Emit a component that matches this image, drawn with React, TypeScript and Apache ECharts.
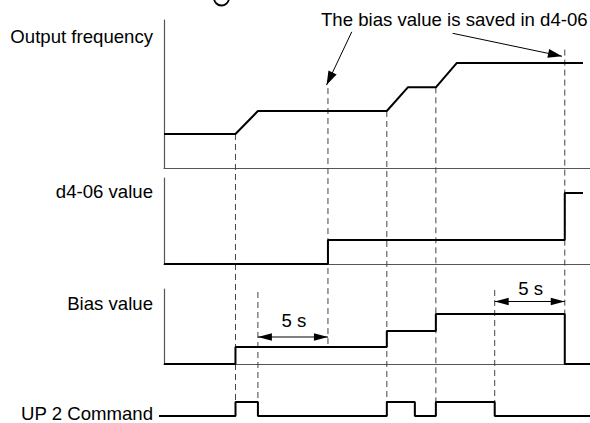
import React, { useEffect, useRef } from "react";
import * as echarts from "echarts";

// ---- data (time in seconds, panel values in % of each panel's scale) ----
const X_MAX = 30.4;

const freqTime = [0, 5.1, 6.7, 15.9, 17.4, 19.4, 20.9, 29.9];
const freqValue = [23, 23, 38.5, 38.5, 54.5, 54.5, 71, 71];

const d406Time = [0, 11.7, 28.6, 29.9];
const d406Value = [0, 28, 82.5, 82.5];

const biasTime = [0, 5.1, 15.9, 19.4, 28.6, 30.4];
const biasValue = [0, 22.7, 44, 66.7, 0, 0];

const up2Time = [-0.36, 5.1, 6.7, 15.9, 17.9, 19.4, 23.6, 30.4];
const up2Value = [0, 1, 0, 1, 0, 1, 0, 0];

const panelLabels = ["Output frequency", "d4-06 value", "Bias value", "UP 2 Command"];
const annotationText = "The bias value is saved in d4-06";
const delayLabel = "5 s";
const delayStart = [6.7, 23.6];
const delaySeconds = 5;

// guide lines: time, [grid, value] top, [grid, value] bottom
const guideTime = [5.1, 6.7, 11.7, 15.9, 19.4, 23.6, 28.6];
const guideTop = [[0, 23], [2, 96], [0, 54], [0, 38.5], [0, 54.5], [2, 98.7], [0, 80]];
const guideBottom = [[3, 1], [3, 1], [2, 22.7], [3, 1], [3, 1], [3, 1], [2, 66.7]];

// annotation arrows in output-frequency panel coordinates: tail -> tip
const annotTail = [[13.4, 92], [20.6, 91]];
const annotTip = [[11.6, 56], [28.4, 75.5]];

export default function App() {
  const ref = useRef<HTMLDivElement>(null);
  useEffect(() => {
    const el = ref.current!;
    const chart = echarts.init(el, null, { renderer: "svg" });
    const font = "'Liberation Sans', Arial, Helvetica, sans-serif";
    const fs = 18.6;
    const zip = (ts: number[], vs: number[]) => ts.map((t, i) => [t, vs[i]]);
    const grids = [
      { left: 164, right: 0, top: 20, height: 148 },
      { left: 164, right: 0, top: 178, height: 86 },
      { left: 164, right: 0, top: 289, height: 75 },
      { left: 159, right: 0, top: 402, height: 14 },
    ];
    const axisColor = "#555";
    const xAxis = grids.map((_, i) => ({
      type: "value",
      gridIndex: i,
      min: i === 3 ? -0.36 : 0,
      max: X_MAX,
      show: i < 3,
      axisLine: { show: true, onZero: false, lineStyle: { color: axisColor, width: 1.2 } },
      axisTick: { show: false },
      axisLabel: { show: false },
      splitLine: { show: false },
    }));
    const yAxis = grids.map((_, i) => ({
      type: "value",
      gridIndex: i,
      min: 0,
      max: i === 3 ? 1 : 100,
      show: i < 3,
      axisLine: { show: true, onZero: false, lineStyle: { color: axisColor, width: 1.2 } },
      axisTick: { show: false },
      axisLabel: { show: false },
      splitLine: { show: false },
    }));
    const lineStyle = { color: "#000", width: 2 };
    const mk = (i: number, data: number[][], step: any) => ({
      type: "line",
      xAxisIndex: i,
      yAxisIndex: i,
      data,
      step,
      symbol: "none",
      silent: true,
      lineStyle,
      z: 3,
    });
    chart.setOption({
      animation: false,
      backgroundColor: "#fff",
      grid: grids,
      xAxis,
      yAxis,
      series: [
        mk(0, zip(freqTime, freqValue), false),
        mk(1, zip(d406Time, d406Value), "end"),
        mk(2, zip(biasTime, biasValue), "end"),
        mk(3, zip(up2Time, up2Value), "end"),
      ],
    });

    const px = (g: number, t: number, v: number) =>
      chart.convertToPixel({ gridIndex: g } as any, [t, v]) as unknown as number[];

    const arrowHead = (tip: number[], from: number[], len = 14, half = 4) => {
      const dx = tip[0] - from[0];
      const dy = tip[1] - from[1];
      const d = Math.hypot(dx, dy);
      const ux = dx / d;
      const uy = dy / d;
      const bx = tip[0] - ux * len;
      const by = tip[1] - uy * len;
      return {
        type: "polygon",
        silent: true,
        z: 10,
        shape: { points: [tip, [bx - uy * half, by + ux * half], [bx + uy * half, by - ux * half]] },
        style: { fill: "#000" },
      };
    };

    const graphics: any[] = [];
    // dashed guides
    guideTime.forEach((t, i) => {
      const a = px(guideTop[i][0], t, guideTop[i][1]);
      const b = px(guideBottom[i][0], t, guideBottom[i][1]);
      graphics.push({
        type: "line",
        silent: true,
        z: 1,
        shape: { x1: a[0], y1: a[1], x2: b[0], y2: b[1] },
        style: { stroke: "#444", lineWidth: 1, lineDash: [6, 4] },
      });
    });
    // 5 s delay arrows
    const delayY = [337, 301.5];
    const delayLabelY = [320.3, 288];
    delayStart.forEach((t, i) => {
      const a = px(2, t, 0);
      const b = px(2, t + delaySeconds, 0);
      const y = delayY[i];
      graphics.push({
        type: "line",
        silent: true,
        z: 9,
        shape: { x1: a[0], y1: y, x2: b[0], y2: y },
        style: { stroke: "#000", lineWidth: 1 },
      });
      graphics.push(arrowHead([a[0], y], [b[0], y], 14, 3.8));
      graphics.push(arrowHead([b[0], y], [a[0], y], 14, 3.8));
      graphics.push({
        type: "text",
        silent: true,
        x: (a[0] + b[0]) / 2 + 1,
        y: delayLabelY[i],
        style: {
          text: delayLabel,
          font: `${fs}px ${font}`,
          fill: "#000",
          align: "center",
          verticalAlign: "middle",
        },
      });
    });
    // annotation arrows
    annotTail.forEach((tail, i) => {
      const a = px(0, tail[0], tail[1]);
      const b = px(0, annotTip[i][0], annotTip[i][1]);
      graphics.push({
        type: "line",
        silent: true,
        z: 9,
        shape: { x1: a[0], y1: a[1], x2: b[0], y2: b[1] },
        style: { stroke: "#000", lineWidth: 1 },
      });
      graphics.push(arrowHead(b, a, 14, 4.5));
    });
    graphics.push({
      type: "text",
      silent: true,
      x: 321,
      y: 19.5,
      style: { text: annotationText, font: `${fs}px ${font}`, fill: "#000", align: "left", verticalAlign: "middle" },
    });
    // panel labels
    const labelY = [36.5, 191, 303, 413.4];
    panelLabels.forEach((s, i) => {
      graphics.push({
        type: "text",
        silent: true,
        x: 153,
        y: labelY[i],
        style: {
          text: s,
          font: `${fs}px ${font}`,
          fill: "#000",
          align: "right",
          verticalAlign: "middle",
        },
      });
    });
    // remnant of a cropped glyph at the top edge
    graphics.push({
      type: "arc",
      silent: true,
      shape: { cx: 221.5, cy: -2, r: 7.5, startAngle: 0.15, endAngle: Math.PI - 0.1 },
      style: { stroke: "#000", lineWidth: 1.8, fill: "none" },
    });

    chart.setOption({ graphic: graphics });
    return () => chart.dispose();
  }, []);
  return (
    <div
      ref={ref}
      style={{ position: "fixed", left: 0, top: 0, width: 590, height: 423, background: "#fff" }}
    />
  );
}
